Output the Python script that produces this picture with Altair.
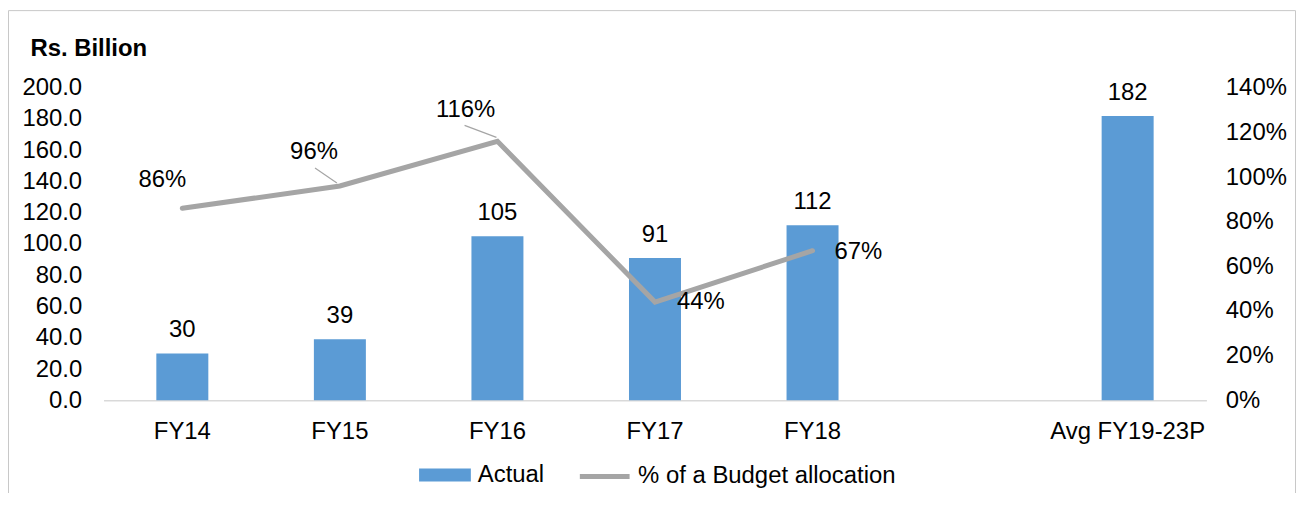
import altair as alt
import pandas as pd

# ---- data ----
categories = ["FY14", "FY15", "FY16", "FY17", "FY18", " ", "Avg FY19-23P"]
actual = [30, 39, 105, 91, 112, None, 182]
budget_pct = [0.86, 0.96, 1.16, 0.44, 0.67, None, None]
left_ticks = [0, 20, 40, 60, 80, 100, 120, 140, 160, 180, 200]
right_ticks = [0, 0.2, 0.4, 0.6, 0.8, 1.0, 1.2, 1.4]
bar_series = "Actual"
line_series = "% of a Budget allocation"

# ---- style ----
BLUE = "#5B9BD5"
GRAY = "#A5A5A5"
FONT = "Liberation Sans"
FS = 24

df = pd.DataFrame({"cat": categories, "actual": actual, "pct": budget_pct})
bars_df = df.dropna(subset=["actual"]).copy()
bars_df["series"] = bar_series
line_df = df.dropna(subset=["pct"]).copy()
line_df["series"] = line_series

x_enc = alt.X(
    "cat:N",
    scale=alt.Scale(domain=categories, paddingInner=0.67, paddingOuter=0.335),
    axis=alt.Axis(title=None, labelAngle=0, labelFontSize=FS, labelColor="black",
                  labelFont=FONT, labelPadding=19, ticks=False, domainColor="#D9D9D9",
                  domainWidth=1.5, labelLimit=400, grid=False),
)

left_scale = alt.Scale(domain=[0, 200], nice=False)
left_axis = alt.Axis(values=left_ticks, format=".1f", domain=False, ticks=False, grid=False,
                     labelPadding=22, labelFontSize=FS, labelColor="black", labelFont=FONT,
                     title="Rs. Billion", titleAngle=0, titleX=-74, titleY=-32,
                     titleAlign="left", titleBaseline="alphabetic", titleFontSize=FS,
                     titleFontWeight="bold", titleColor="black", titleFont=FONT)
y_left = alt.Y("actual:Q", scale=left_scale, axis=left_axis)

right_scale = alt.Scale(domain=[0, 1.4], nice=False)
right_axis = alt.Axis(orient="right", values=right_ticks, format=".0%", domain=False,
                      ticks=False, grid=False, labelPadding=19, labelFontSize=FS,
                      labelColor="black", labelFont=FONT, title=None)
y_right = alt.Y("pct:Q", scale=right_scale, axis=right_axis)

frame = alt.Chart(pd.DataFrame({"frame": [1]})).mark_rect(
    fillOpacity=0, stroke="#C8C8C8", strokeWidth=1
).encode(x=alt.value(-95.5), x2=alt.value(1197.5), y=alt.value(-77.5), y2=alt.value(600))

bars = alt.Chart(bars_df).mark_bar().encode(
    x=x_enc,
    y=y_left,
    color=alt.Color("series:N", scale=alt.Scale(domain=[bar_series], range=[BLUE]),
                    legend=alt.Legend(orient="none", legendX=317, legendY=363, title=None,
                                      symbolType="M-1,-0.25H1V0.25H-1Z", symbolSize=2704,
                                      symbolStrokeWidth=0, symbolOpacity=1,
                                      labelFontSize=FS, labelColor="black", labelFont=FONT,
                                      labelOffset=7, labelLimit=400, padding=0)),
)
bar_text = alt.Chart(bars_df).mark_text(
    baseline="alphabetic", dy=-16, fontSize=FS, color="black", font=FONT
).encode(x=x_enc, y=y_left, text=alt.Text("actual:Q", format="d"))

left = alt.layer(frame, bars, bar_text)

line = alt.Chart(line_df).mark_line(strokeWidth=5, strokeCap="round", strokeJoin="miter").encode(
    x=x_enc,
    y=y_right,
    color=alt.Color("series:N", scale=alt.Scale(domain=[line_series], range=[GRAY]),
                    legend=alt.Legend(orient="none", legendX=476, legendY=363, title=None,
                                      symbolType="stroke", symbolSize=2500,
                                      symbolStrokeWidth=5, symbolOpacity=1,
                                      labelFontSize=FS, labelColor="black", labelFont=FONT,
                                      labelOffset=6, labelLimit=400, padding=0)),
)

label_offsets = {
    "FY14": (-20, -28),
    "FY15": (-26, -34),
    "FY16": (-32, -31),
    "FY17": (46, 0),
    "FY18": (46, 1),
}
label_layers = []
for cat, (dx, dy) in label_offsets.items():
    label_layers.append(
        alt.Chart(line_df).mark_text(dx=dx, dy=dy, baseline="middle", align="center",
                                     fontSize=FS, color="black", font=FONT)
        .encode(x=x_enc, y=y_right, text=alt.Text("pct:Q", format=".0%"))
        .transform_filter(alt.datum.cat == cat)
    )

leader_offsets = {
    "FY15": (-25, -18, -3, -3),
    "FY16": (-33, -16, -1, -4),
}
leader_layers = []
for cat, (x0, y0, x1, y1) in leader_offsets.items():
    leader_layers.append(
        alt.Chart(line_df).mark_rule(color=GRAY, strokeWidth=1.2, xOffset=x0, yOffset=y0,
                                     x2Offset=x1, y2Offset=y1)
        .encode(x=x_enc, x2=alt.X2("cat"), y=y_right, y2=alt.Y2("pct"))
        .transform_filter(alt.datum.cat == cat)
    )

right = alt.layer(line, *leader_layers, *label_layers)

chart = alt.layer(left, right).resolve_scale(y="independent", color="independent").properties(
    width=1108,
    height=314,
    padding={"left": 96, "top": 79, "right": 90, "bottom": 92},
    autosize=alt.AutoSizeParams(type="none"),
).configure(font=FONT).configure_view(stroke="transparent", strokeWidth=0)

chart.save("out.html", embed_options={"renderer": "svg", "actions": False})
